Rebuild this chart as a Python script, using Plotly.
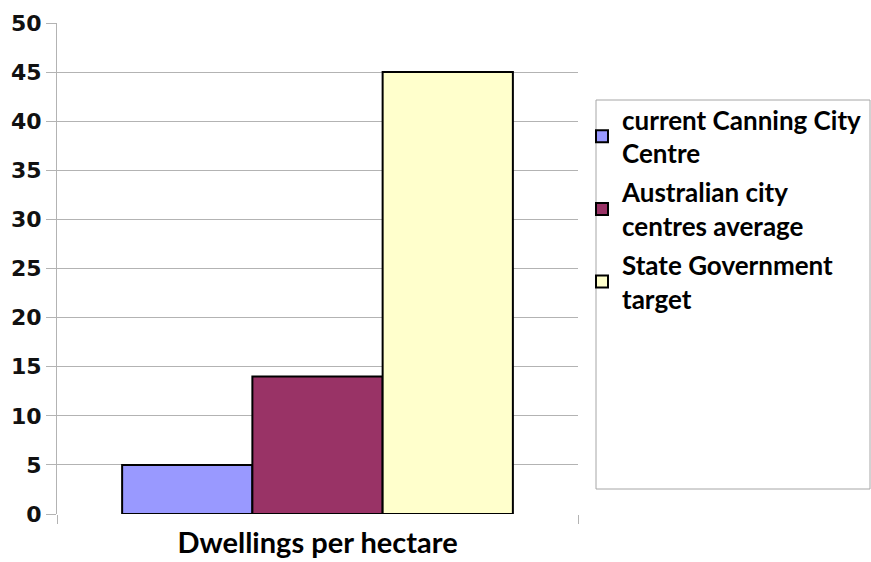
import plotly.graph_objects as go

categories = ["Dwellings per hectare"]
series_names = ["current Canning City<br>Centre", "Australian city<br>centres average", "State Government<br>target"]
series_values = [[5], [14], [45]]
series_colors = ["#9999ff", "#993366", "#ffffcc"]
y_ticks = [0, 5, 10, 15, 20, 25, 30, 35, 40, 45, 50]

fig = go.Figure()
for i, (name, vals, col) in enumerate(zip(series_names, series_values, series_colors)):
    fig.add_trace(go.Bar(
        x=categories, y=vals, name=name, legendgroup=f"g{i}",
        marker=dict(color=col, line=dict(color="#000000", width=2)),
    ))

W, H = 871, 562
L, R, T, B = 57, 293, 23, 48
pw = W - L - R
ph = H - T - B

def px_x(x):
    return (x - L) / pw

def px_y(y):
    return (H - B - y) / ph

fig.update_layout(
    width=W, height=H,
    margin=dict(l=L, r=R, t=T, b=B, autoexpand=False),
    paper_bgcolor="white", plot_bgcolor="white",
    barmode="group", bargap=0.25, bargroupgap=0,
    showlegend=True,
    legend=dict(
        x=px_x(582), y=px_y(96), xanchor="left", yanchor="top",
        font=dict(family="Lato", size=26, color="#000000", weight="bold"),
        traceorder="grouped", tracegroupgap=2,
        bgcolor="rgba(0,0,0,0)", borderwidth=0,
        valign="middle",
    ),
    shapes=[dict(
        type="rect", xref="paper", yref="paper",
        x0=px_x(596), x1=px_x(870), y0=px_y(489), y1=px_y(100),
        line=dict(color="#a6a6a6", width=1), fillcolor="rgba(0,0,0,0)", layer="below",
    )],
)

fig.update_xaxes(
    showline=False, showgrid=False, zeroline=False,
    ticks="outside", tickson="boundaries", ticklen=9, tickcolor="#b3b3b3", tickwidth=1,
    ticklabelstandoff=9,
    tickfont=dict(family="Lato", size=29, color="#000000", weight="bold"),
)
fig.update_yaxes(
    range=[0, 50], tickvals=y_ticks, ticktext=[str(v) for v in y_ticks],
    showline=True, linecolor="#b3b3b3", linewidth=1,
    showgrid=True, gridcolor="#b3b3b3", gridwidth=1, zeroline=False,
    ticks="outside", ticklen=10, tickcolor="#b3b3b3",
    tickfont=dict(family="DejaVu Sans", size=22, color="#111111", weight="bold"),
)

fig.write_html("out.html")
